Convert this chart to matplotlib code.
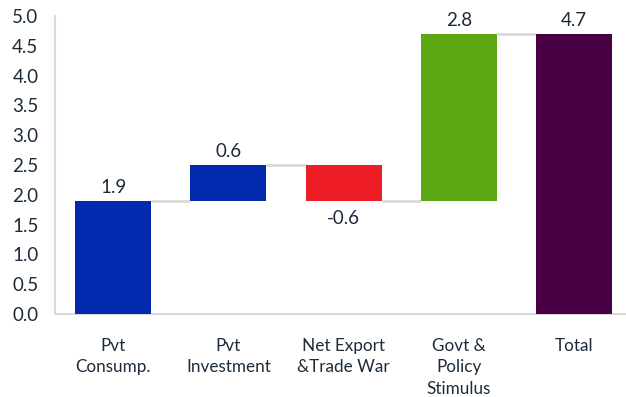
import matplotlib
matplotlib.use("Agg")
import matplotlib.pyplot as plt
import numpy as np

categories = ["Pvt\nConsump.", "Pvt\nInvestment", "Net Export\n&Trade War", "Govt &\nPolicy\nStimulus", "Total"]
values = [1.9, 0.6, -0.6, 2.8, 4.7]
is_total = [False, False, False, False, True]
colors = ["#0229AE", "#0229AE", "#EE1C25", "#5DA614", "#4A0045"]
yticks = [0.0, 0.5, 1.0, 1.5, 2.0, 2.5, 3.0, 3.5, 4.0, 4.5, 5.0]

plt.rcParams['font.family'] = ['Lato', 'DejaVu Sans']
text_color = "#1C2B3A"

fig = plt.figure(figsize=(6.26, 3.97), dpi=100)
ax = fig.add_axes([0.088, 0.209, 0.912, 0.751])

x = np.arange(len(categories))
bottoms = []
tops = []
running = 0.0
for v, t in zip(values, is_total):
    if t:
        b, h = 0.0, v
        running = v
    else:
        b = running if v >= 0 else running + v
        h = abs(v)
        running += v
    bottoms.append(b)
    tops.append(b + h)

w = 0.66
heights = [t - b for t, b in zip(tops, bottoms)]
ax.bar(x, heights, bottom=bottoms, width=w, color=colors, zorder=3)

# connectors
running = 0.0
levels = []
for v, t in zip(values, is_total):
    running = v if t else running + v
    levels.append(running)
for i in range(len(x) - 1):
    ax.plot([x[i] + w / 2, x[i + 1] - w / 2], [levels[i], levels[i]],
            color="#D9D9D9", lw=2, zorder=2, solid_capstyle='butt')

for i, v in enumerate(values):
    if v >= 0:
        ax.text(x[i], tops[i] + 0.08, f"{v:.1f}", ha="center", va="bottom",
                fontsize=13.5, color=text_color)
    else:
        ax.text(x[i], bottoms[i] - 0.15, f"{v:.1f}", ha="center", va="top",
                fontsize=13.5, color=text_color)

ax.set_xlim(-0.503, len(x) - 0.55)
ax.set_ylim(0, 5.0)
ax.set_yticks(yticks)
ax.set_yticklabels([f"{t:.1f}" for t in yticks], fontsize=13.5, color=text_color)
ax.set_xticks(x)
ax.set_xticklabels(categories, fontsize=12.3, color=text_color, linespacing=1.45, va="top")
ax.tick_params(axis="both", length=0)
ax.tick_params(axis="x", pad=17)
ax.tick_params(axis="y", pad=12)
for s in ["top", "right"]:
    ax.spines[s].set_visible(False)
for s in ["left", "bottom"]:
    ax.spines[s].set_color("#D9D9D9")
    ax.spines[s].set_linewidth(1.5)

fig.savefig("out.png", dpi=100)
